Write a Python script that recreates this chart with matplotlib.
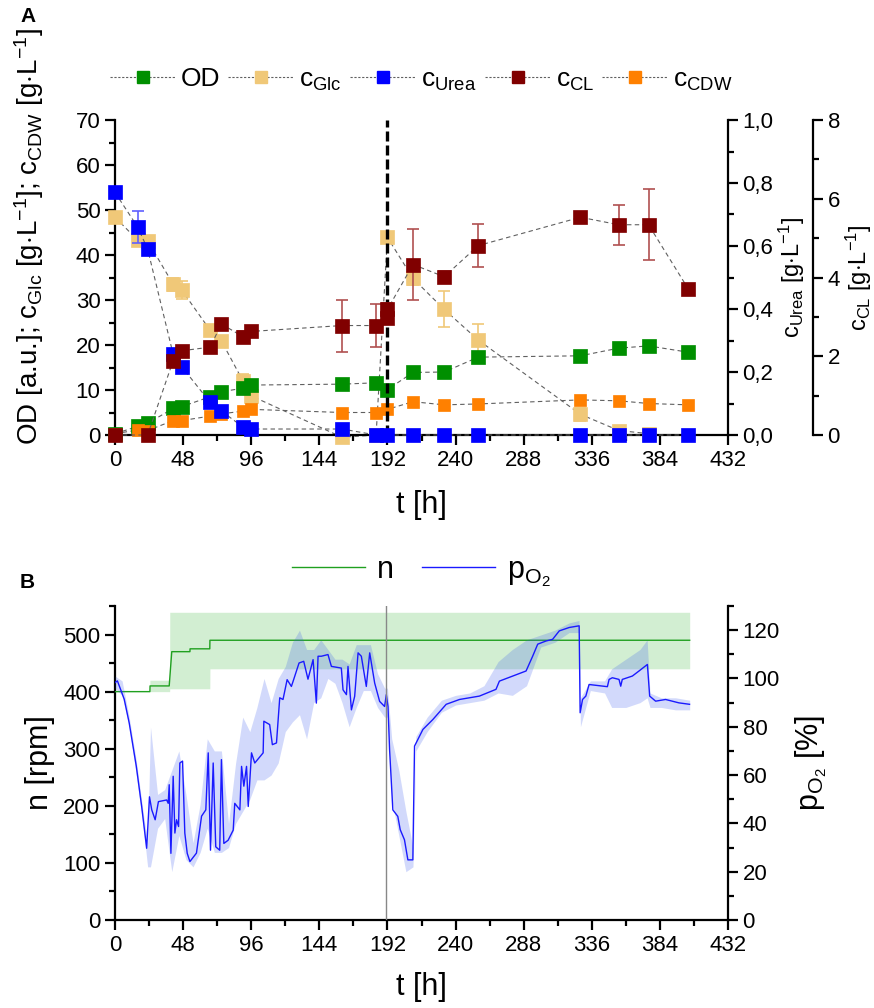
import matplotlib
matplotlib.use("Agg")
import matplotlib.pyplot as plt
from matplotlib.lines import Line2D
from matplotlib.ticker import MultipleLocator, FuncFormatter
import numpy as np

plt.rcParams['font.family'] = ['Liberation Sans', 'DejaVu Sans']
plt.rcParams['mathtext.fontset'] = 'custom'
plt.rcParams['mathtext.rm'] = 'Liberation Sans'
plt.rcParams['mathtext.it'] = 'Liberation Sans:italic'
plt.rcParams['font.size'] = 16

# ---------------- Panel A data ----------------
t_samples = [0, 16, 23, 41, 47, 67, 75, 90, 96, 160, 184, 192, 210, 232, 256, 328, 355, 376, 404]
od = [0.3, 1.9, 2.6, 5.9, 6.3, 8.5, 9.6, 10.4, 11.1, 11.3, 11.6, 10.1, 13.9, 14.0, 17.3, 17.6, 19.3, 19.8, 18.4]
od_err = [0, 0.3, 0.3, 0.3, 0.3, 0.3, 0.3, 0.8, 0.3, 0.3, 0.3, 0.3, 1.2, 0.3, 0.3, 0.3, 0.3, 0.3, 0.3]

t_glc = [0, 16, 23, 41, 47, 67, 75, 90, 96, 160, 184, 192, 210, 232, 256, 328, 355, 376]
glc = [48.4, 43.3, 43.1, 33.5, 32.2, 23.3, 20.9, 12.1, 8.7, -0.5, 0.0, 43.9, 34.8, 27.9, 21.1, 4.6, 1.0, 0.3]
glc_err = [0.5, 1.0, 1.0, 1.5, 2.0, 0.5, 0.5, 1.5, 0.5, 0, 0, 0.5, 1.5, 4.0, 3.5, 1.5, 0.5, 0]

urea = [0.77, 0.66, 0.59, 0.256, 0.217, 0.104, 0.076, 0.026, 0.019, 0.019, 0, 0, 0, 0, 0, 0, 0, 0, 0]
urea_err = [0, 0.05, 0, 0, 0, 0, 0, 0, 0, 0, 0, 0, 0, 0, 0, 0, 0, 0, 0]

t_cl = [0, 23, 41, 47, 67, 75, 90, 96, 160, 184, 192, 192, 210, 232, 256, 328, 355, 376, 404]
cl = [0, 0, 1.89, 2.14, 2.23, 2.82, 2.50, 2.63, 2.78, 2.78, 2.96, 3.19, 4.33, 4.02, 4.81, 5.53, 5.34, 5.34, 3.71]
cl_err = [0, 0, 0.1, 0.1, 0.1, 0.1, 0.14, 0.1, 0.66, 0.55, 0.1, 0.17, 0.89, 0.14, 0.54, 0.05, 0.51, 0.9, 0.09]

cdw = [0.3, 1.1, 1.0, 3.2, 3.2, 4.2, 4.7, 5.3, 5.7, 5.0, 5.0, 5.7, 7.4, 6.7, 6.9, 7.8, 7.6, 7.0, 6.7]

t_feed = 192

# ---------------- Panel B data ----------------
t_n = [0, 24.6, 24.7, 38.2, 40.0, 52.8, 52.9, 66.8, 66.9, 405]
n_rpm = [400, 400, 410, 410, 470, 470, 475, 475, 490, 490]
t_nband = [24.6, 38.5, 38.6, 66.8, 66.9, 405]
n_low = [400, 400, 405, 405, 440, 440]
n_high = [420, 420, 539, 539, 539, 539]

t_po2 = [0, 1.7, 6.5, 10, 15, 18.8, 22.3, 24.3, 25.9, 28.3, 30.6, 36.4, 37.5, 38.2, 39.4, 41, 42.2,
         43.4, 44.8, 45.7, 47.6, 49.2, 50.9, 52.8, 57.4, 61, 64, 65.7, 67.3, 69.2, 71, 73.8, 75,
         76.7, 79.7, 83.3, 84.4, 88, 89.2, 90.8, 92.7, 93.9, 96.2, 98.5, 104.4, 104.9, 109, 110.9,
         113.8, 116.1, 118.4, 121.3, 124.3, 125.5, 129.7, 133, 136, 139.6, 141.9, 143.1, 145.4,
         150.1, 152.5, 159.5, 160.7, 163.1, 164.2, 166.6, 168.9, 171.3, 173.6, 177.1, 179.5, 183,
         186.5, 190, 191.2, 192.4, 193.5, 195.8, 199.3, 201, 204, 206.4, 209.9, 211.1, 217, 224,
         233.4, 242.8, 256.8, 268.5, 270.9, 280.3, 289.7, 294.4, 297.9, 303.7, 308.4, 313.1, 320.1,
         327.1, 327.8, 329.5, 331.8, 334.1, 347, 348.2, 350.5, 355.2, 356.4, 357.5, 364.6, 369.3,
         375.2, 376.8, 381, 388, 397.4, 404.9]
po2 = [98.3, 99, 91.4, 81.6, 63.7, 47, 29.7, 51, 45.6, 41.5, 49, 49.7, 48.3, 56, 27.6, 59.5, 36,
       41.5, 38.7, 65, 65.8, 36, 27.6, 24.2, 27.7, 43, 45.6, 69.2, 28.9, 65, 30.3, 28.9, 66.4,
       31.7, 33, 37.2, 48.3, 45.6, 63.6, 55.4, 63.6, 47, 69.2, 65, 69.2, 82.3, 80.9, 72.6,
       73.3, 92, 91.3, 99.5, 96.7, 98.8, 106.4, 107.1, 99.7, 107.8, 89.8, 109.2, 109.2,
       109.9, 105, 104.3, 95.3, 93.3, 105, 87, 92.6, 110.6, 109.2, 96.7, 110.6, 98.1,
       90.5, 88.4, 93.3, 88.4, 70.6, 45.6, 42.9, 37.4, 33.2, 24.9, 24.9, 72, 78.9, 83,
       89.3, 91.3, 92.7, 95.5, 98.9, 101, 103.1, 109.3, 114.2, 115.5, 116.2, 119.7, 121.1,
       121.8, 85.8, 91.3, 92.7, 97.5, 96.6, 99.6, 100.3, 99.6, 96.8, 99.6, 101, 103.1,
       105.8, 92.7, 90.6, 91.3, 89.9, 89.3]

t_po2band = [0, 5, 10, 15, 20, 23, 25, 30, 35, 40, 45, 50, 55, 60, 65, 70, 75, 80, 85, 90, 95, 100,
             105, 110, 115, 120, 125, 130, 135, 140, 145, 150, 155, 160, 165, 170, 175, 180, 185,
             190, 192, 195, 200, 205, 210, 212, 220, 230, 240, 250, 260, 270, 280, 290, 300, 310,
             320, 327, 328, 335, 345, 350, 360, 370, 375, 377, 385, 395, 405]
po2_low = [96, 93, 80, 60, 38, 22, 22, 38, 42, 20, 35, 25, 22, 28, 38, 28, 28, 30, 40, 45, 50, 58,
           58, 60, 65, 78, 82, 85, 75, 90, 92, 100, 98, 90, 80, 88, 95, 95, 88,
           84, 84, 50, 35, 20, 22, 70, 78, 86, 89, 90, 91, 94, 93, 97, 113, 115,
           119, 119, 80, 95, 94, 88, 88, 90, 92, 88, 88, 87, 87]
po2_high = [101, 99, 84, 66, 44, 32, 80, 52, 54, 62, 70, 52, 32, 48, 75, 70, 70, 40, 65, 84, 78, 88,
            100, 90, 100, 105, 115, 120, 112, 112, 116, 112, 108, 108, 106, 114, 114, 114, 102,
            96, 96, 75, 62, 45, 30, 76, 84, 91, 93, 94, 97, 107, 112, 116, 118, 120,
            123, 124, 92, 99, 99, 104, 108, 112, 116, 94, 92, 92, 91]

# ---------------- Colors ----------------
c_od = '#008f00'
c_glc = '#f0c878'
c_urea = '#0000ff'
c_cl = '#800000'
c_cdw = '#ff8000'
c_link = '#606060'

fig = plt.figure(figsize=(8.74, 10.08), dpi=100)
W, H = 874, 1008

def axrect(l, t, r, b):
    return [l / W, 1 - b / H, (r - l) / W, (b - t) / H]

LW = 1.6

# ================= Panel A =================
ax1 = fig.add_axes(axrect(115, 120, 728, 435))
ax_u = ax1.twinx()
ax_c = ax1.twinx()
ax_c.spines['right'].set_position(('outward', 85 * 72 / 100))

for a in (ax1, ax_u, ax_c):
    a.set_xlim(0, 432)
    a.spines['top'].set_visible(False)
    for s in a.spines.values():
        s.set_linewidth(LW)
    a.tick_params(which='major', direction='out', length=7, width=LW, labelsize=16)
    a.tick_params(which='minor', direction='out', length=4, width=LW)
ax1.spines['right'].set_visible(False)
ax_u.spines['left'].set_visible(False)
ax_c.spines['left'].set_visible(False)
ax_u.spines['bottom'].set_visible(False)
ax_c.spines['bottom'].set_visible(False)

ax1.set_ylim(0, 70)
ax_u.set_ylim(0, 1.0)
ax_c.set_ylim(0, 8)
ax1.xaxis.set_major_locator(MultipleLocator(48))
ax1.xaxis.set_minor_locator(MultipleLocator(24))
ax1.yaxis.set_major_locator(MultipleLocator(10))
ax1.yaxis.set_minor_locator(MultipleLocator(5))
ax_u.yaxis.set_major_locator(MultipleLocator(0.2))
ax_u.yaxis.set_minor_locator(MultipleLocator(0.1))
ax_u.yaxis.set_major_formatter(FuncFormatter(lambda v, p: f"{v:.1f}".replace('.', ',')))
ax_c.yaxis.set_major_locator(MultipleLocator(2))
ax_c.yaxis.set_minor_locator(MultipleLocator(1))

ms = 9.5
link_kw = dict(color=c_link, lw=0.8, dashes=(4, 3), zorder=1)

def series(ax, t, y, err, col, msize=ms, ecol=None):
    ax.plot(t, y, clip_on=False, **link_kw)
    if err is not None:
        ax.errorbar(t, y, yerr=err, fmt='none', ecolor=ecol or col, elinewidth=1.2,
                    capsize=4, capthick=1.2, zorder=2)
    ax.plot(t, y, ls='none', marker='s', ms=msize, mfc=col, mec=col, mew=0.5, zorder=3,
            clip_on=False)

series(ax1, t_glc, glc, glc_err, c_glc)
series(ax1, t_samples, od, od_err, c_od, ecol='#40a040')
series(ax1, t_samples, cdw, None, c_cdw, msize=8)
series(ax_u, t_samples, urea, urea_err, c_urea, ecol='#6060ff')
series(ax_c, t_cl, cl, cl_err, c_cl, ecol='#b05050')

ax1.plot([t_feed, t_feed], [0, 70], color='black', lw=2.4, dashes=(3, 1.2), zorder=4)

ax1.set_xlabel('t [h]', fontsize=22, labelpad=14)
ax1.set_ylabel('OD [a.u.]; c$_{\\mathrm{Glc}}$ [g$\\cdot$L$^{\\mathrm{-1}}$]; '
               'c$_{\\mathrm{CDW}}$ [g$\\cdot$L$^{\\mathrm{-1}}$]', fontsize=20)
ax1.yaxis.set_label_coords(-0.113, 0.63)
ax_u.set_ylabel('c$_{\\mathrm{Urea}}$ [g$\\cdot$L$^{\\mathrm{-1}}$]', fontsize=17, labelpad=2)
ax_c.set_ylabel('c$_{\\mathrm{CL}}$ [g$\\cdot$L$^{\\mathrm{-1}}$]', fontsize=17, labelpad=3)

handles = []
labels = ['OD', 'c$_{\\mathrm{Glc}}$', 'c$_{\\mathrm{Urea}}$', 'c$_{\\mathrm{CL}}$', 'c$_{\\mathrm{CDW}}$']
for col in (c_od, c_glc, c_urea, c_cl, c_cdw):
    handles.append(Line2D([], [], color=c_link, lw=0.8, dashes=(2, 1.5), marker='s', ms=9,
                          mfc=col, mec=col))
fig.legend(handles, labels, loc='center', bbox_to_anchor=(0.482, 1 - 80 / H), ncol=5,
           frameon=False, fontsize=19, handlelength=2.5, handletextpad=0.2, columnspacing=0.3)

fig.text(20 / W, 1 - 17 / H, 'A', fontsize=15, fontweight='bold', va='center')

# ================= Panel B =================
ax2 = fig.add_axes(axrect(115, 606, 728, 920))
ax2r = ax2.twinx()
for a in (ax2, ax2r):
    a.set_xlim(0, 432)
    a.spines['top'].set_visible(False)
    for s in a.spines.values():
        s.set_linewidth(LW)
    a.tick_params(which='major', direction='out', length=7, width=LW, labelsize=16)
    a.tick_params(which='minor', direction='out', length=4, width=LW)
ax2.spines['right'].set_visible(False)
ax2r.spines['left'].set_visible(False)
ax2r.spines['bottom'].set_visible(False)

ax2.set_ylim(0, 550)
ax2r.set_ylim(0, 130)
ax2.xaxis.set_major_locator(MultipleLocator(48))
ax2.xaxis.set_minor_locator(MultipleLocator(24))
ax2.yaxis.set_major_locator(MultipleLocator(100))
ax2.yaxis.set_minor_locator(MultipleLocator(50))
ax2r.yaxis.set_major_locator(MultipleLocator(20))
ax2r.yaxis.set_minor_locator(MultipleLocator(10))

ax2.fill_between(t_nband, n_low, n_high, color='#d2eed2', lw=0, zorder=1)
ax2.plot(t_n, n_rpm, color='#20a020', lw=1.0, zorder=3)
ax2r.fill_between(t_po2band, po2_low, po2_high, color='#3355ee', alpha=0.22, lw=0, zorder=1)
ax2r.plot(t_po2, po2, color='#1a1aff', lw=1.0, zorder=3)
ax2r.axvline(191, color='#888888', lw=1.0, zorder=4)

ax2.set_xlabel('t [h]', fontsize=22, labelpad=12)
ax2.set_ylabel('n [rpm]', fontsize=22, labelpad=6)
ax2r.set_ylabel('p$_{\\mathrm{O_2}}$ [%]', fontsize=22, labelpad=10)

h2 = [Line2D([], [], color='#20a020', lw=1.0), Line2D([], [], color='#1a1aff', lw=1.0)]
fig.legend(h2, ['n', 'p$_{\\mathrm{O_2}}$'], loc='center', bbox_to_anchor=(0.482, 1 - 572 / H),
           ncol=2, frameon=False, fontsize=22, handlelength=2.4, handletextpad=0.4,
           columnspacing=0.9)

fig.text(20 / W, 1 - 583 / H, 'B', fontsize=15, fontweight='bold', va='center')

fig.savefig('out.png', dpi=100)
